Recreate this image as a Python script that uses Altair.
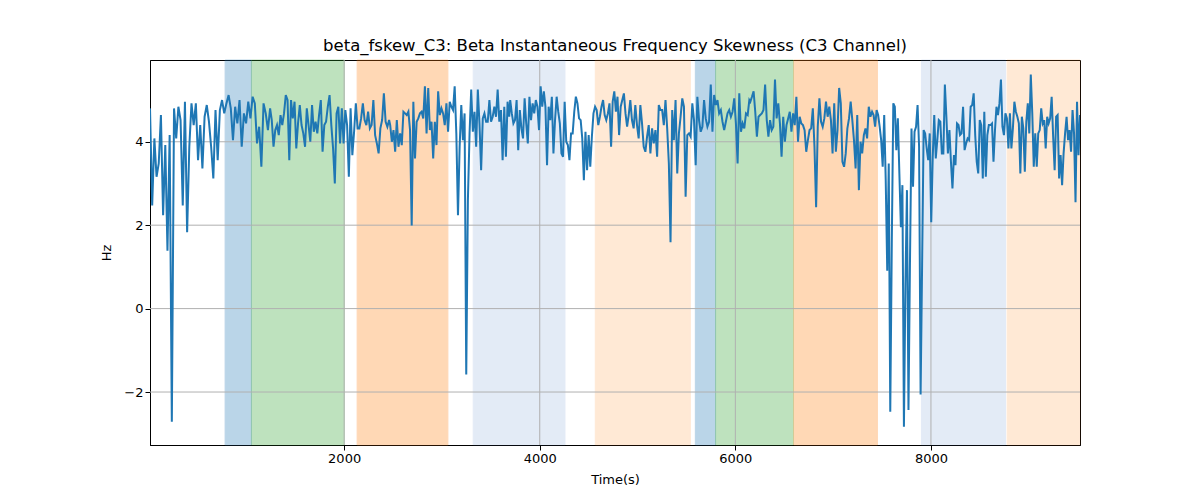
import numpy as np
import pandas as pd
import altair as alt

TITLE = "beta_fskew_C3: Beta Instantaneous Frequency Skewness (C3 Channel)"
FONT = "DejaVu Sans"

# time span (s) covered by each stretch of readings
seg_start = [15, 1260, 2471, 3698, 4943, 6153, 7398, 8609]
seg_end = [1243, 2460, 3688, 4926, 6143, 7381, 8592, 9524]

seg1 = [4.80, 2.47, 4.08, 3.16, 3.48, 4.64, 2.24, 3.92, 1.39, 4.16, -2.71, 4.80, 4.08, 4.84, 4.52,
        2.47, 4.96, 1.83, 3.88, 4.92, 4.40, 4.92, 3.56, 4.40, 3.36, 4.60, 4.88, 4.48, 3.88, 3.12,
        4.76, 3.56, 4.76, 5.00, 4.68, 4.92, 5.12, 4.80, 4.04, 4.84, 4.44, 5.00, 3.88, 4.68, 4.44,
        4.96, 4.56, 5.08, 4.92, 3.96, 4.36, 3.40, 4.92, 4.68, 4.28, 4.80]
seg2 = [4.52, 3.88, 4.28, 4.40, 4.16, 4.64, 4.40, 4.68, 5.12, 5.00, 3.56, 5.00, 4.56, 4.96, 3.84,
        4.44, 4.88, 4.40, 4.20, 3.88, 4.80, 4.40, 4.00, 4.88, 4.24, 4.48, 4.20, 4.64, 5.00, 3.76,
        4.40, 4.48, 4.84, 5.12, 4.40, 3.84, 3.00, 4.68, 4.84, 3.96, 4.80, 3.96, 4.76, 4.40, 3.16,
        4.80, 3.68, 4.24, 4.92, 4.32, 4.32, 4.56, 4.92, 4.52, 4.40, 4.72, 4.32, 4.40, 5.00, 4.16,
        3.96, 3.72, 4.32, 4.52, 5.16, 4.48, 4.36, 4.52]
seg3 = [4.40, 4.00, 4.28, 3.76, 4.52, 3.88, 4.20, 3.92, 4.72, 4.68, 4.64, 4.72, 4.28, 1.99, 4.96,
        3.60, 4.48, 4.56, 4.68, 4.72, 4.56, 5.33, 4.20, 5.29, 4.28, 4.48, 3.60, 4.48, 3.92, 5.21,
        4.64, 4.80, 4.68, 4.40, 4.92, 4.24, 4.96, 4.84, 4.76, 5.33, 4.20, 2.24, 3.88, 4.88, 4.04,
        4.68, -1.58, 2.61, 4.20, 5.25, 4.24, 4.72, 3.88, 5.25, 4.44, 3.32, 4.56, 4.68, 4.48, 4.48,
        5.00, 4.48, 4.60, 4.84, 4.60, 5.25, 4.48, 4.76, 3.56, 4.84, 3.64, 4.96, 4.60]
seg4 = [5.00, 4.68, 4.44, 4.52, 5.00, 3.80, 4.76, 4.32, 4.08, 5.04, 4.44, 3.96, 5.08, 4.52, 4.92,
        4.68, 5.00, 4.84, 4.28, 5.33, 4.84, 5.21, 4.84, 3.44, 4.84, 4.52, 5.08, 3.72, 4.52, 5.08,
        4.72, 4.44, 3.72, 3.64, 4.96, 4.00, 3.92, 3.56, 4.20, 4.20, 4.72, 5.08, 4.92, 4.56, 4.52,
        4.08, 3.08, 4.24, 3.32, 4.16, 3.40, 4.12, 4.68, 4.84, 4.76, 4.40, 4.60, 4.84, 5.00, 4.64,
        4.52, 4.68, 4.92, 3.88, 4.96, 5.21, 4.72, 5.08, 4.16, 4.84, 5.00, 5.16, 4.68, 4.36, 4.64,
        5.00]
seg5 = [4.52, 4.32, 4.88, 4.40, 4.08, 4.88, 4.44, 3.88, 3.76, 4.12, 4.40, 3.72, 4.32, 3.96, 4.28,
        3.64, 4.88, 4.76, 4.76, 4.40, 5.00, 4.32, 3.48, 1.59, 4.76, 4.04, 5.00, 3.24, 4.20, 4.60,
        5.04, 4.84, 2.68, 4.16, 4.20, 4.12, 4.92, 4.52, 3.44, 5.08, 4.52, 4.24, 4.36, 5.00, 4.56,
        4.36, 4.48, 5.37, 4.24, 5.12, 4.88, 5.00, 4.68, 4.76, 4.48, 4.28, 4.48, 4.68, 4.76, 4.60,
        4.72, 5.04, 4.44, 3.48, 5.16, 4.24, 4.44, 4.32, 4.68, 4.64, 5.00]
seg6 = [4.96, 5.08, 5.21, 4.72, 4.12, 4.60, 4.64, 4.68, 4.76, 5.37, 4.52, 4.12, 4.52, 4.28, 4.36,
        5.49, 4.56, 4.92, 4.44, 3.64, 4.60, 4.00, 4.40, 4.56, 4.72, 4.24, 4.68, 4.40, 5.08, 4.00,
        4.60, 4.44, 4.40, 4.28, 3.76, 4.04, 4.28, 4.32, 4.80, 3.88, 2.43, 4.36, 5.04, 4.48, 4.36,
        4.56, 4.96, 4.60, 4.84, 4.52, 3.72, 4.92, 3.76, 4.28, 5.29, 4.92, 3.52, 3.40, 3.72, 4.32,
        4.56, 4.96, 4.52, 4.04, 3.36, 4.64, 2.84, 4.00, 3.72, 4.16, 4.32, 4.08, 4.84, 4.60]
seg7 = [4.72, 4.64, 4.36, 4.76, 4.64, 4.36, 4.04, 3.40, 4.64, 3.08, 0.91, 3.48, -2.47, 1.55, 4.92,
        4.84, 3.80, 4.56, 3.24, 1.95, 2.96, -2.83, 0.59, 2.84, -2.43, 1.15, 4.32, 2.92, 4.24, 4.36,
        4.88, 3.88, -2.06, 1.07, 4.28, 4.20, 3.84, 3.56, 4.20, 2.07, 3.64, 4.64, 3.60, 4.04, 4.52,
        4.48, 3.72, 3.72, 5.37, 4.60, 3.72, 4.28, 3.52, 2.88, 3.68, 3.44, 4.44, 4.40, 4.16, 4.20,
        4.84, 3.80, 3.96, 4.08, 4.04, 4.84, 4.88, 5.16, 4.16, 3.52, 3.24, 4.52, 4.40, 3.12, 4.72,
        3.16, 4.16, 4.40]
seg8 = [4.40, 4.44, 3.52, 4.28, 4.84, 4.64, 4.92, 5.49, 4.36, 4.16, 4.68, 4.56, 3.84, 4.68, 3.84,
        4.32, 4.96, 4.72, 4.60, 4.44, 3.24, 4.60, 4.32, 3.28, 4.48, 4.92, 4.20, 5.61, 4.68, 3.40,
        4.20, 3.40, 4.20, 4.28, 4.80, 4.44, 4.52, 3.84, 4.60, 4.44, 4.56, 5.08, 4.12, 3.32, 4.60,
        4.64, 3.12, 3.68, 2.96, 3.72, 4.20, 4.60, 4.04, 4.28, 3.76, 4.76, 4.20, 2.55, 4.96, 3.68,
        4.64]
segments = [seg1, seg2, seg3, seg4, seg5, seg6, seg7, seg8]

# shaded intervals
span_start = [783, 1052, 2133, 3320, 4568, 5591, 5798, 6597, 7903, 8779]
span_end = [1052, 2003, 3061, 4258, 5540, 5798, 6593, 7453, 8762, 9524]
span_color = ["#1f77b4", "#2ca02c", "#ff7f0e", "#4b80ca", "#ff7f0e",
              "#1f77b4", "#2ca02c", "#ff7f0e", "#4b80ca", "#ff7f0e"]
span_alpha = [0.3, 0.3, 0.3, 0.15, 0.17, 0.3, 0.3, 0.3, 0.15, 0.17]

x_ticks = [2000, 4000, 6000, 8000]
y_ticks = [-2, 0, 2, 4]

times, values = [], []
for s, e, vals in zip(seg_start, seg_end, segments):
    times.extend(np.linspace(s, e, len(vals)))
    values.extend(vals)
line_df = pd.DataFrame({"t": times, "hz": values})
span_df = pd.DataFrame({"start": span_start, "end": span_end,
                        "color": span_color, "alpha": span_alpha})

x_scale = alt.Scale(domain=[15, 9524], nice=False, zero=False)
y_scale = alt.Scale(domain=[-3.27, 5.96], nice=False, zero=False)

axis_style = dict(labelFont=FONT, titleFont=FONT, labelFontSize=13, titleFontSize=13,
                  titleFontWeight="normal", labelColor="black", titleColor="black",
                  tickColor="black", domainColor="black", tickSize=5, grid=False)

spans = alt.Chart(span_df).mark_rect(strokeWidth=1).encode(
    x=alt.X("start:Q", scale=x_scale,
            axis=alt.Axis(values=x_ticks, format="d", title="Time(s)", titlePadding=8,
                          **axis_style)),
    x2="end:Q",
    color=alt.Color("color:N", scale=None),
    stroke=alt.Stroke("color:N", scale=None),
    opacity=alt.Opacity("alpha:Q", scale=None),
)

grid_x = alt.Chart(pd.DataFrame({"v": x_ticks})).mark_rule(
    color="#b0b0b0", strokeWidth=1).encode(x=alt.X("v:Q", scale=x_scale))
grid_y = alt.Chart(pd.DataFrame({"v": y_ticks})).mark_rule(
    color="#b0b0b0", strokeWidth=1).encode(y=alt.Y("v:Q", scale=y_scale))

line = alt.Chart(line_df).mark_line(color="#1f77b4", strokeWidth=2, clip=True).encode(
    x=alt.X("t:Q", scale=x_scale),
    y=alt.Y("hz:Q", scale=y_scale,
            axis=alt.Axis(values=y_ticks, format="d", title="Hz", titlePadding=10,
                          **axis_style)),
)

chart = alt.layer(spans, grid_x, grid_y, line).properties(
    width=930,
    height=385,
    padding={"left": 142, "top": 52, "right": 112, "bottom": 40},
    autosize=alt.AutoSizeParams(type="none"),
    title=alt.TitleParams(TITLE, font=FONT, fontSize=16.5, fontWeight="normal",
                          color="black", anchor="middle", offset=5),
).configure_view(
    stroke="black", strokeWidth=1
)

chart.save("out.html", embed_options={"renderer": "svg", "actions": False})
